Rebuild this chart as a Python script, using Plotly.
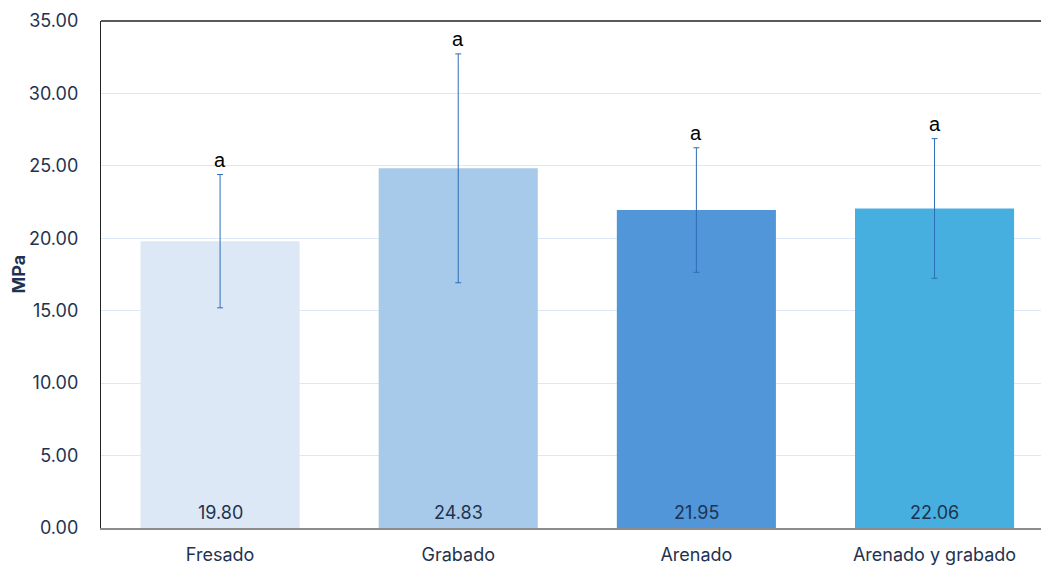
import plotly.graph_objects as go

categories = ["Fresado", "Grabado", "Arenado", "Arenado y grabado"]
means = [19.80, 24.83, 21.95, 22.06]
errors = [4.60, 7.90, 4.30, 4.82]
letters = ["a", "a", "a", "a"]
bar_colors = ["#DCE8F5", "#A7CAEB", "#5096D8", "#46AFDF"]
y_ticks = [0, 5, 10, 15, 20, 25, 30, 35]

txt_color = "#1F3350"
font_family = "Inter, Open Sans, sans-serif"

fig = go.Figure()
fig.add_trace(go.Bar(
    x=categories, y=means,
    marker=dict(color=bar_colors, line=dict(width=0)),
    width=0.668,
    error_y=dict(type="data", array=errors, visible=True,
                 color="#2E6EB5", thickness=1, width=3),
    hoverinfo="skip",
))

annotations = []
for c, m, e, l in zip(categories, means, errors, letters):
    annotations.append(dict(x=c, y=m + e, text=l, showarrow=False,
                            yanchor="bottom", yshift=2,
                            font=dict(family="Liberation Sans, Arial", size=20, color="#000000")))
    annotations.append(dict(x=c, y=0, text=f"{m:.2f}", showarrow=False,
                            yanchor="bottom", yshift=3,
                            font=dict(family=font_family, size=18, color=txt_color)))
annotations.append(dict(x=0, xref="paper", xshift=-83, y=0.5, yref="paper",
                        text="<b>MPa</b>", textangle=-90, showarrow=False,
                        xanchor="center", yanchor="middle",
                        font=dict(family=font_family, size=18, color=txt_color)))

fig.update_layout(
    width=1041, height=565,
    margin=dict(l=101, r=0, t=21, b=37),
    paper_bgcolor="white", plot_bgcolor="white",
    showlegend=False,
    annotations=annotations,
    xaxis=dict(range=[-0.5, 3.447], showline=True, linecolor="#8C8C8C", linewidth=1.5,
               showgrid=False, ticks="", ticklabelstandoff=10, automargin=False,
               tickfont=dict(family=font_family, size=18, color=txt_color)),
    yaxis=dict(range=[0, 35], tickvals=y_ticks, ticktext=[f"{v:.2f}" for v in y_ticks],
               showgrid=True, gridcolor="#DCE8F5", gridwidth=1.3,
               showline=True, linecolor="#222222", linewidth=1.3,
               zeroline=False, ticks="", ticklabelstandoff=18, automargin=False,
               tickfont=dict(family=font_family, size=18, color=txt_color)),
    shapes=[dict(type="line", xref="paper", yref="paper", x0=0, x1=1, y0=1, y1=1,
                 line=dict(color="#222222", width=1.5))],
)

fig.write_html("out.html")
